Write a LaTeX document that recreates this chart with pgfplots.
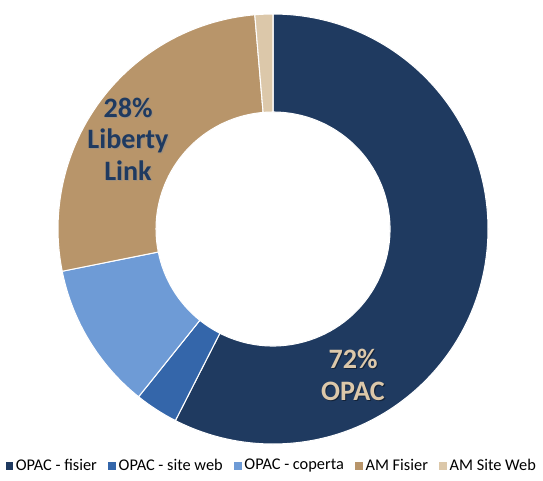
\documentclass[border=0pt]{standalone}
\usepackage{pgfplots}
\usepackage{pgfplotstable}
\usepackage{fontspec}
\setmainfont{Carlito}
\pgfplotsset{compat=1.18}
\definecolor{c0}{HTML}{1F3A60}
\definecolor{c1}{HTML}{3466AA}
\definecolor{c2}{HTML}{6E9BD6}
\definecolor{c3}{HTML}{B8956A}
\definecolor{c4}{HTML}{DCC8AA}

% share of each slice, %, clockwise from the top
\pgfplotstableread{
name value
fisier 57.5
siteweb 3.25
coperta 11.1
amfisier 26.8
amweb 1.35
}\piedata

\begin{document}
\begin{tikzpicture}
\def\Ro{215}\def\Ri{117}
\xdef\acc{90}
\foreach \i in {0,...,4}{
  \pgfplotstablegetelem{\i}{value}\of\piedata
  \pgfmathsetmacro\e{\acc-3.6*\pgfplotsretval}
  \expandafter\xdef\csname sa\i\endcsname{\acc}
  \expandafter\xdef\csname ea\i\endcsname{\e}
  \xdef\acc{\e}
}
\begin{axis}[
  x=0.02cm,y=0.02cm,
  xmin=-273,xmax=270,ymin=-250,ymax=229,
  hide axis,clip=false,
  legend columns=-1,
  legend image code/.code={\fill[#1] (0cm,-0.07cm) rectangle (0.14cm,0.07cm);},
  legend style={at={(axis cs:-1,-237)},anchor=center,draw=none,fill=none,
    font=\fontsize{9.3}{10}\selectfont,inner xsep=0pt,
    nodes={inner xsep=1.5pt},
    /tikz/every even column/.append style={column sep=5pt}},
]
\path (rel axis cs:0,0) (rel axis cs:1,1);
\pgfplotsinvokeforeach{0,...,4}{
  \pgfplotsextra{
  \fill[c#1,draw=white,line width=0.6pt]
    (axis cs:{\Ro*cos(\csname sa#1\endcsname)},{\Ro*sin(\csname sa#1\endcsname)})
    arc[start angle=\csname sa#1\endcsname,end angle=\csname ea#1\endcsname,radius=\Ro*0.02cm]
    -- (axis cs:{\Ri*cos(\csname ea#1\endcsname)},{\Ri*sin(\csname ea#1\endcsname)})
    arc[start angle=\csname ea#1\endcsname,end angle=\csname sa#1\endcsname,radius=\Ri*0.02cm]
    -- cycle;
  }
}
\addlegendimage{c0}\addlegendentry{OPAC - fisier}
\addlegendimage{c1}\addlegendentry{OPAC - site web}
\addlegendimage{c2}\addlegendentry{OPAC - coperta}
\addlegendimage{c3}\addlegendentry{AM Fisier}
\addlegendimage{c4}\addlegendentry{AM Site Web}
\node[black!45,opacity=0.5,align=center,font=\bfseries\fontsize{16}{18}\selectfont]
  at ([xshift=0.6pt,yshift=-0.6pt]axis cs:-145,90) {28\%\\Liberty\\Link};
\node[c0,align=center,font=\bfseries\fontsize{16}{18}\selectfont]
  at (axis cs:-145,90) {28\%\\Liberty\\Link};
\node[black,opacity=0.4,align=center,font=\bfseries\fontsize{16}{18}\selectfont]
  at ([xshift=0.6pt,yshift=-0.6pt]axis cs:80,-146) {72\%\\OPAC};
\node[c4,align=center,font=\bfseries\fontsize{16}{18}\selectfont]
  at (axis cs:80,-146) {72\%\\OPAC};
\end{axis}
\end{tikzpicture}
\end{document}
